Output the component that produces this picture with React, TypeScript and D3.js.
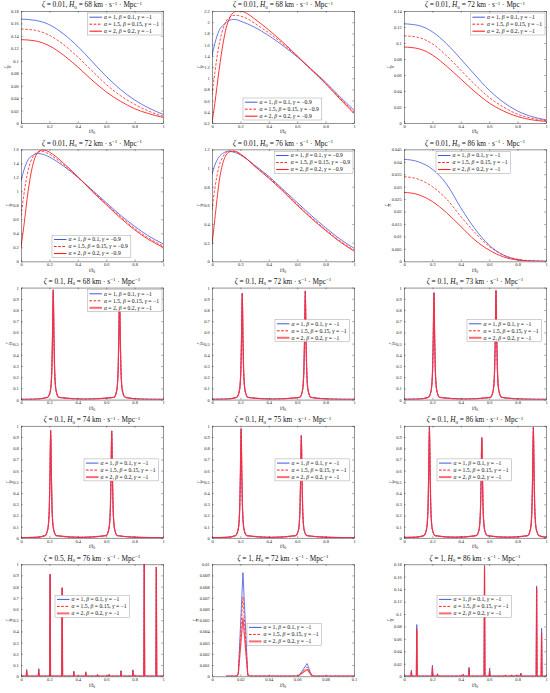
import React, { useRef, useEffect } from 'react';
import * as d3 from 'd3';

// sample grids (t/t0)
const tSmooth = [0, 0.1, 0.2, 0.3, 0.4, 0.5, 0.6, 0.7, 0.8, 0.9, 1];
const tRise = [0, 0.02, 0.05, 0.08, 0.1, 0.12, 0.15, 0.18, 0.2, 0.25, 0.3, 0.4, 0.5, 0.6, 0.7, 0.8, 0.9, 1];

// row 1 / row 2 : zeta = 0.01
const p1Blue = [0.167, 0.165, 0.158, 0.143, 0.123, 0.099, 0.075, 0.054, 0.037, 0.024, 0.014];
const p1Dash = [0.151, 0.149, 0.141, 0.126, 0.106, 0.084, 0.062, 0.044, 0.03, 0.019, 0.011];
const p1Solid = [0.134, 0.132, 0.124, 0.109, 0.09, 0.069, 0.05, 0.035, 0.023, 0.015, 0.009];

const p2Blue = [1.4, 1.62, 1.85, 1.95, 2.0, 2.03, 2.05, 2.04, 2.02, 1.97, 1.91, 1.76, 1.58, 1.38, 1.16, 0.93, 0.67, 0.43];
const p2Dash = [0.7, 1.1, 1.6, 1.9, 2.02, 2.08, 2.12, 2.12, 2.11, 2.06, 1.98, 1.81, 1.61, 1.39, 1.15, 0.91, 0.65, 0.4];
const p2Solid = [0.2, 0.55, 1.15, 1.65, 1.9, 2.05, 2.17, 2.2, 2.2, 2.15, 2.06, 1.86, 1.64, 1.4, 1.15, 0.9, 0.63, 0.37];

const p3Blue = [0.124, 0.122, 0.114, 0.099, 0.08, 0.06, 0.041, 0.026, 0.015, 0.008, 0.004];
const p3Dash = [0.109, 0.107, 0.099, 0.084, 0.066, 0.048, 0.032, 0.02, 0.011, 0.006, 0.003];
const p3Solid = [0.095, 0.093, 0.085, 0.071, 0.055, 0.039, 0.025, 0.015, 0.008, 0.004, 0.002];

const p4Blue = [1.15, 1.3, 1.45, 1.51, 1.53, 1.54, 1.53, 1.51, 1.49, 1.43, 1.36, 1.2, 1.02, 0.84, 0.66, 0.5, 0.36, 0.25];
const p4Dash = [0.65, 0.95, 1.3, 1.48, 1.54, 1.56, 1.57, 1.55, 1.53, 1.46, 1.38, 1.2, 1.01, 0.82, 0.64, 0.47, 0.33, 0.22];
const p4Solid = [0.2, 0.5, 1.0, 1.35, 1.49, 1.56, 1.59, 1.58, 1.56, 1.49, 1.4, 1.21, 1.0, 0.81, 0.62, 0.45, 0.31, 0.2];

const p5Blue = [0.93, 1.03, 1.12, 1.16, 1.175, 1.18, 1.17, 1.155, 1.14, 1.09, 1.03, 0.91, 0.77, 0.63, 0.49, 0.36, 0.24, 0.14];
const p5Dash = [0.55, 0.78, 1.02, 1.13, 1.165, 1.18, 1.18, 1.165, 1.145, 1.09, 1.02, 0.9, 0.76, 0.61, 0.47, 0.34, 0.22, 0.12];
const p5Solid = [0.18, 0.45, 0.85, 1.07, 1.14, 1.17, 1.18, 1.17, 1.15, 1.09, 1.02, 0.89, 0.75, 0.6, 0.46, 0.33, 0.21, 0.11];

const p6Blue = [0.041, 0.04, 0.037, 0.031, 0.0215, 0.013, 0.0065, 0.0025, 0.0007, 0.0001, 0];
const p6Dash = [0.034, 0.033, 0.03, 0.025, 0.018, 0.0115, 0.006, 0.0025, 0.0008, 0.0002, 0];
const p6Solid = [0.0277, 0.0268, 0.024, 0.0195, 0.014, 0.0085, 0.0045, 0.0018, 0.0005, 0.0001, 0];

// rows 3 / 4 : zeta = 0.1 (three curves coincide)
const t7 = [0, 0.1, 0.187, 0.207, 0.217, 0.222, 0.227, 0.232, 0.237, 0.247, 0.267, 0.45, 0.654, 0.674, 0.684, 0.689, 0.694, 0.699, 0.704, 0.714, 0.734, 0.85, 1];
const y7 = [0.002, 0.004, 0.02, 0.08, 0.26, 0.57, 0.98, 0.57, 0.26, 0.08, 0.02, 0.004, 0.02, 0.08, 0.26, 0.56, 0.97, 0.56, 0.26, 0.08, 0.02, 0.004, 0.002];
const t8 = [0, 0.1, 0.173, 0.193, 0.203, 0.208, 0.213, 0.218, 0.223, 0.233, 0.253, 0.43, 0.617, 0.637, 0.647, 0.652, 0.657, 0.662, 0.667, 0.677, 0.697, 0.85, 1];
const y8 = [0.003, 0.005, 0.02, 0.08, 0.25, 0.55, 0.95, 0.55, 0.25, 0.08, 0.02, 0.005, 0.02, 0.08, 0.26, 0.56, 0.97, 0.56, 0.26, 0.08, 0.02, 0.004, 0.002];
const t9 = [0, 0.1, 0.171, 0.191, 0.201, 0.206, 0.211, 0.216, 0.221, 0.231, 0.251, 0.43, 0.608, 0.628, 0.638, 0.643, 0.648, 0.653, 0.658, 0.668, 0.688, 0.85, 1];
const y9 = [0.003, 0.005, 0.02, 0.08, 0.25, 0.55, 0.955, 0.55, 0.25, 0.08, 0.02, 0.005, 0.02, 0.08, 0.26, 0.56, 0.975, 0.56, 0.26, 0.08, 0.02, 0.004, 0.002];
const t10 = [0, 0.1, 0.169, 0.189, 0.199, 0.204, 0.209, 0.214, 0.219, 0.229, 0.249, 0.42, 0.599, 0.619, 0.629, 0.634, 0.639, 0.644, 0.649, 0.659, 0.679, 0.85, 1];
const y10 = [0.003, 0.005, 0.02, 0.08, 0.25, 0.56, 0.96, 0.56, 0.25, 0.08, 0.02, 0.005, 0.02, 0.08, 0.25, 0.55, 0.955, 0.55, 0.25, 0.08, 0.02, 0.004, 0.002];
const t11 = [0, 0.1, 0.165, 0.185, 0.195, 0.2, 0.205, 0.21, 0.215, 0.225, 0.245, 0.42, 0.589, 0.609, 0.619, 0.624, 0.629, 0.634, 0.639, 0.649, 0.669, 0.85, 1];
const y11 = [0.003, 0.005, 0.02, 0.08, 0.26, 0.57, 0.975, 0.57, 0.26, 0.08, 0.02, 0.005, 0.02, 0.07, 0.24, 0.53, 0.915, 0.53, 0.24, 0.07, 0.02, 0.004, 0.002];
const t12 = [0, 0.08, 0.139, 0.159, 0.169, 0.174, 0.179, 0.184, 0.189, 0.199, 0.219, 0.36, 0.508, 0.528, 0.538, 0.543, 0.548, 0.553, 0.558, 0.568, 0.588, 0.73, 0.871, 0.891, 0.901, 0.906, 0.911, 0.916, 0.921, 0.931, 0.951, 1];
const y12 = [0.004, 0.006, 0.02, 0.08, 0.26, 0.58, 0.995, 0.58, 0.26, 0.08, 0.02, 0.006, 0.02, 0.07, 0.23, 0.52, 0.895, 0.52, 0.23, 0.07, 0.02, 0.006, 0.02, 0.08, 0.26, 0.57, 0.99, 0.57, 0.26, 0.08, 0.02, 0.006];

// row 5 : spikes
const p13Centers = [0.04, 0.125, 0.205, 0.29, 0.372, 0.456, 0.539, 0.62, 0.704, 0.788, 0.868, 0.953];
const p13Blue = [0.06, 0.068, 0.91, 0.79, 0.045, 0.04, 0.015, 0.015, 0.05, 0.058, 1.0, 0.975];
const p13Dash = [0.052, 0.058, 0.91, 0.79, 0.04, 0.035, 0.012, 0.013, 0.045, 0.05, 1.0, 0.975];
const p13Solid = [0.045, 0.05, 0.905, 0.785, 0.035, 0.03, 0.01, 0.012, 0.04, 0.045, 0.995, 0.97];

const t14 = [0.01, 0.0175, 0.0185, 0.0218, 0.0252, 0.027, 0.045, 0.0605, 0.0615, 0.067, 0.07, 0.0715, 0.085, 0.1];
const p14Blue = [0, 0, 0.0002, 0.00925, 0.0001, 0, 0, 0, 0.0001, 0.00113, 0.0001, 0, 0, 0];
const p14Dash = [0, 0, 0.0002, 0.0071, 0.0001, 0, 0, 0, 0.0001, 0.00082, 0.0001, 0, 0, 0];
const p14Solid = [0, 0, 0.0002, 0.0052, 0.0001, 0, 0, 0, 0.0001, 0.0006, 0.0001, 0, 0, 0];

const p15Centers = [0.052, 0.09, 0.2, 0.236, 0.418, 0.458, 0.567, 0.603, 0.714, 0.757, 0.792, 0.823, 0.934, 0.969];
const p15Blue = [0.0097, 0.083, 0.0177, 0.004, 0.003, 0.0145, 0.178, 0.013, 0.002, 0.002, 0.002, 0.005, 0.145, 0.077];
const p15Dash = [0.008, 0.077, 0.015, 0.0035, 0.0025, 0.012, 0.176, 0.011, 0.0015, 0.0015, 0.0018, 0.004, 0.142, 0.071];
const p15Solid = [0.007, 0.073, 0.013, 0.003, 0.002, 0.011, 0.175, 0.009, 0.0015, 0.0015, 0.0015, 0.0035, 0.14, 0.067];

// titles / legend
const zetas = ['0.01', '0.01', '0.01', '0.01', '0.01', '0.01', '0.1', '0.1', '0.1', '0.1', '0.1', '0.1', '0.5', '1', '1'];
const hubble = ['68', '68', '72', '72', '76', '86', '68', '72', '73', '74', '75', '86', '76', '72', '86'];
const gammas = ['−1', '−0.9', '−1', '−0.9', '−0.9', '−1', '−1', '−1', '−1', '−1', '−1', '−1', '−1', '−1', '−1'];
const alphas = ['1', '1.5', '2'];
const betas = ['0.1', '0.15', '0.2'];

// ticks
const xTicksUnit = [0, 0.2, 0.4, 0.6, 0.8, 1];
const xTicksTenth = [0, 0.02, 0.04, 0.06, 0.08, 0.1];
const yTicks018 = [0, 0.02, 0.04, 0.06, 0.08, 0.1, 0.12, 0.14, 0.16, 0.18];
const yTicks22 = [0.2, 0.4, 0.6, 0.8, 1, 1.2, 1.4, 1.6, 1.8, 2, 2.2];
const yTicks014 = [0, 0.02, 0.04, 0.06, 0.08, 0.1, 0.12, 0.14];
const yTicks16 = [0, 0.2, 0.4, 0.6, 0.8, 1, 1.2, 1.4, 1.6];
const yTicks12 = [0, 0.2, 0.4, 0.6, 0.8, 1, 1.2];
const yTicks045 = [0, 0.005, 0.01, 0.015, 0.02, 0.025, 0.03, 0.035, 0.04, 0.045];
const yTicksUnit = [0, 0.1, 0.2, 0.3, 0.4, 0.5, 0.6, 0.7, 0.8, 0.9, 1];
const yTicks001 = [0, 0.001, 0.002, 0.003, 0.004, 0.005, 0.006, 0.007, 0.008, 0.009, 0.01];

type Pt = [number, number];
const zip = (t: number[], v: number[]): Pt[] => t.map((d, i) => [d, v[i]]);
const spikes = (c: number[], h: number[], hw: number): Pt[] => {
  const pts: Pt[] = [[0, 0]];
  c.forEach((d, i) => pts.push([d - hw, 0], [d, h[i]], [d + hw, 0]));
  pts.push([1, 0]);
  return pts;
};

const panels = [
  { xd: [0, 1], yd: [0, 0.18], xt: xTicksUnit, yt: yTicks018, s: [zip(tSmooth, p1Blue), zip(tSmooth, p1Dash), zip(tSmooth, p1Solid)], leg: 'ne' },
  { xd: [0, 1], yd: [0.2, 2.2], xt: xTicksUnit, yt: yTicks22, s: [zip(tRise, p2Blue), zip(tRise, p2Dash), zip(tRise, p2Solid)], leg: [31, 87] },
  { xd: [0, 1], yd: [0, 0.14], xt: xTicksUnit, yt: yTicks014, s: [zip(tSmooth, p3Blue), zip(tSmooth, p3Dash), zip(tSmooth, p3Solid)], leg: 'ne' },
  { xd: [0, 1], yd: [0, 1.6], xt: xTicksUnit, yt: yTicks16, s: [zip(tRise, p4Blue), zip(tRise, p4Dash), zip(tRise, p4Solid)], leg: [31, 86] },
  { xd: [0, 1], yd: [0, 1.2], xt: xTicksUnit, yt: yTicks12, s: [zip(tRise, p5Blue), zip(tRise, p5Dash), zip(tRise, p5Solid)], leg: 'ne' },
  { xd: [0, 1], yd: [0, 0.045], xt: xTicksUnit, yt: yTicks045, s: [zip(tSmooth, p6Blue), zip(tSmooth, p6Dash), zip(tSmooth, p6Solid)], leg: [32, 2] },
  { xd: [0, 1], yd: [0, 1], xt: xTicksUnit, yt: yTicksUnit, s: [zip(t7, y7), zip(t7, y7), zip(t7, y7)], leg: 'ne' },
  { xd: [0, 1], yd: [0, 1], xt: xTicksUnit, yt: yTicksUnit, s: [zip(t8, y8), zip(t8, y8), zip(t8, y8)], leg: [63, 32] },
  { xd: [0, 1], yd: [0, 1], xt: xTicksUnit, yt: yTicksUnit, s: [zip(t9, y9), zip(t9, y9), zip(t9, y9)], leg: [63, 32] },
  { xd: [0, 1], yd: [0, 1], xt: xTicksUnit, yt: yTicksUnit, s: [zip(t10, y10), zip(t10, y10), zip(t10, y10)], leg: [63, 33] },
  { xd: [0, 1], yd: [0, 1], xt: xTicksUnit, yt: yTicksUnit, s: [zip(t11, y11), zip(t11, y11), zip(t11, y11)], leg: [63, 33] },
  { xd: [0, 1], yd: [0, 1], xt: xTicksUnit, yt: yTicksUnit, s: [zip(t12, y12), zip(t12, y12), zip(t12, y12)], leg: [33, 33] },
  { xd: [0, 1], yd: [0, 1], xt: xTicksUnit, yt: yTicksUnit, s: [spikes(p13Centers, p13Blue, 0.003), spikes(p13Centers, p13Dash, 0.003), spikes(p13Centers, p13Solid, 0.003)], leg: [34, 31] },
  { xd: [0, 0.1], yd: [0, 0.01], xt: xTicksTenth, yt: yTicks001, s: [zip(t14, p14Blue), zip(t14, p14Dash), zip(t14, p14Solid)], leg: [35, 59] },
  { xd: [0, 1], yd: [0, 0.18], xt: xTicksUnit, yt: yTicks018, s: [spikes(p15Centers, p15Blue, 0.003), spikes(p15Centers, p15Dash, 0.003), spikes(p15Centers, p15Solid, 0.003)], leg: [33, 31] },
];

const COLS = [21, 212, 404];
const W = 142;
const H = 112;
const ROW0 = 11;
const ROW_STEP = 138.3;
const FONT = '"Liberation Serif", "DejaVu Serif", serif';
const AX = '#262626';
const BLUE = '#4257e0';
const RED = '#ff1f1f';
const fmt = (v: number) => String(+v.toFixed(6));

const App = () => {
  const ref = useRef<SVGSVGElement>(null);

  useEffect(() => {
    const svg = d3.select(ref.current);
    svg.selectAll('*').remove();

    panels.forEach((p, i) => {
      const row = Math.floor(i / 3);
      const col = i % 3;
      const peaky = row >= 2;
      const g = svg.append('g').attr('transform', `translate(${COLS[col]},${ROW0 + row * ROW_STEP})`);

      const x = d3.scaleLinear().domain(p.xd).range([0, W]);
      const y = d3.scaleLinear().domain(p.yd).range([H, 0]);

      g.append('clipPath').attr('id', `clip${i}`)
        .append('rect').attr('width', W).attr('height', H);

      const curve = i >= 12 ? d3.curveLinear : d3.curveMonotoneX;
      const line = d3.line<Pt>().x(d => x(d[0])).y(d => y(d[1])).curve(curve);

      const styles = [
        { stroke: BLUE, w: 0.8, dash: null, op: 1 },
        { stroke: RED, w: 0.8, dash: '2.6,1.6', op: 1 },
        { stroke: peaky ? '#ff2a3c' : RED, w: peaky ? 1.25 : 0.9, dash: null, op: peaky ? 0.85 : 1 },
      ];

      p.s.forEach((pts, k) => {
        g.append('path')
          .attr('d', line(pts))
          .attr('fill', 'none')
          .attr('stroke', styles[k].stroke)
          .attr('stroke-width', styles[k].w)
          .attr('stroke-dasharray', styles[k].dash)
          .attr('stroke-opacity', styles[k].op)
          .attr('stroke-linejoin', 'round')
          .attr('clip-path', `url(#clip${i})`);
      });

      // axes (ticks inward, box on)
      const styleAxis = (sel: any) => {
        sel.select('.domain').attr('stroke', AX).attr('stroke-width', 0.5);
        sel.selectAll('.tick line').attr('stroke', AX).attr('stroke-width', 0.4);
        sel.selectAll('.tick text').attr('fill', AX);
        sel.attr('font-family', FONT).attr('font-size', 4.5);
      };
      const xa = g.append('g').attr('transform', `translate(0,${H})`)
        .call(d3.axisBottom(x).tickValues(p.xt).tickFormat(d => fmt(+d)).tickSize(-1.8).tickSizeOuter(0).tickPadding(1.6));
      styleAxis(xa);
      const ya = g.append('g')
        .call(d3.axisLeft(y).tickValues(p.yt).tickFormat(d => fmt(+d)).tickSize(-1.8).tickSizeOuter(0).tickPadding(2.2));
      styleAxis(ya);
      const xt = g.append('g')
        .call(d3.axisTop(x).tickValues(p.xt).tickFormat(() => '').tickSize(-1.8).tickSizeOuter(0));
      styleAxis(xt);
      const yr = g.append('g').attr('transform', `translate(${W},0)`)
        .call(d3.axisRight(y).tickValues(p.yt).tickFormat(() => '').tickSize(-1.8).tickSizeOuter(0));
      styleAxis(yr);

      // title
      const title = g.append('text')
        .attr('x', W / 2).attr('y', -3.6)
        .attr('text-anchor', 'middle')
        .attr('font-family', FONT).attr('font-size', 7.3).attr('fill', '#111');
      title.append('tspan').attr('font-style', 'italic').text('ζ');
      title.append('tspan').text(` = ${zetas[i]}, `);
      title.append('tspan').attr('font-style', 'italic').text('H');
      title.append('tspan').attr('font-size', 5).attr('dy', 1.4).text('0');
      title.append('tspan').attr('dy', -1.4).text(` = ${hubble[i]} km · s`);
      title.append('tspan').attr('font-size', 5).attr('dy', -2.8).text('−1');
      title.append('tspan').attr('dy', 2.8).text(' · Mpc');
      title.append('tspan').attr('font-size', 5).attr('dy', -2.8).text('−1');

      // x label
      const xl = g.append('text')
        .attr('x', W / 2).attr('y', H + 10.4)
        .attr('text-anchor', 'middle')
        .attr('font-family', FONT).attr('font-size', 5.2).attr('fill', '#111');
      xl.append('tspan').attr('font-style', 'italic').text('t');
      xl.append('tspan').text('/');
      xl.append('tspan').attr('font-style', 'italic').text('t');
      xl.append('tspan').attr('font-size', 3.6).attr('dy', 1).text('0');

      // y label (small rotated fraction)
      const bb = (ya.node() as SVGGElement).getBBox();
      const yl = g.append('g')
        .attr('transform', `translate(${bb.x - 3.2},${H / 2}) rotate(-90)`)
        .attr('font-family', FONT).attr('font-size', 3.6).attr('fill', '#111');
      yl.append('text').attr('text-anchor', 'middle').attr('y', -0.8).attr('font-style', 'italic').text('Γ');
      yl.append('line').attr('x1', -1.8).attr('x2', 1.8).attr('y1', 0).attr('y2', 0).attr('stroke', '#111').attr('stroke-width', 0.3);
      yl.append('text').attr('text-anchor', 'middle').attr('y', 3).attr('font-style', 'italic').text('H');

      // legend
      const lg = g.append('g');
      const box = lg.append('rect').attr('fill', '#fff').attr('stroke', '#8a8a8a').attr('stroke-width', 0.4);
      const rowH = 7;
      const texts: SVGTextElement[] = [];
      alphas.forEach((a, k) => {
        const cy = 4 + rowH * k + 0.2;
        lg.append('line')
          .attr('x1', 2).attr('x2', 14.5).attr('y1', cy).attr('y2', cy)
          .attr('stroke', styles[k].stroke)
          .attr('stroke-width', k === 2 && peaky ? 2 : styles[k].w + 0.2)
          .attr('stroke-dasharray', styles[k].dash)
          .attr('stroke-opacity', k === 2 && peaky ? 0.7 : 1);
        const t = lg.append('text')
          .attr('x', 16.5).attr('y', cy + 1.8)
          .attr('font-family', FONT).attr('font-size', 5.7).attr('fill', '#111');
        t.append('tspan').attr('font-style', 'italic').text('α');
        t.append('tspan').text(` = ${a}, `);
        t.append('tspan').attr('font-style', 'italic').text('β');
        t.append('tspan').text(` = ${betas[k]}, `);
        t.append('tspan').attr('font-style', 'italic').text('γ');
        t.append('tspan').text(` = ${gammas[i]}`);
        texts.push(t.node() as SVGTextElement);
      });
      const tw = d3.max(texts, t => t.getComputedTextLength()) || 60;
      const lw = 16.5 + tw + 3;
      const lh = rowH * 3 + 1;
      box.attr('width', lw).attr('height', lh);
      const lx = p.leg === 'ne' ? W - 1 - lw : (p.leg as number[])[0];
      const ly = p.leg === 'ne' ? 2 : (p.leg as number[])[1];
      lg.attr('transform', `translate(${lx},${ly})`);
    });
  }, []);

  return (
    <div style={{ position: 'absolute', left: 0, top: 0, background: '#fff' }}>
      <svg ref={ref} width={550} height={693} style={{ display: 'block' }} />
    </div>
  );
};

export default App;
